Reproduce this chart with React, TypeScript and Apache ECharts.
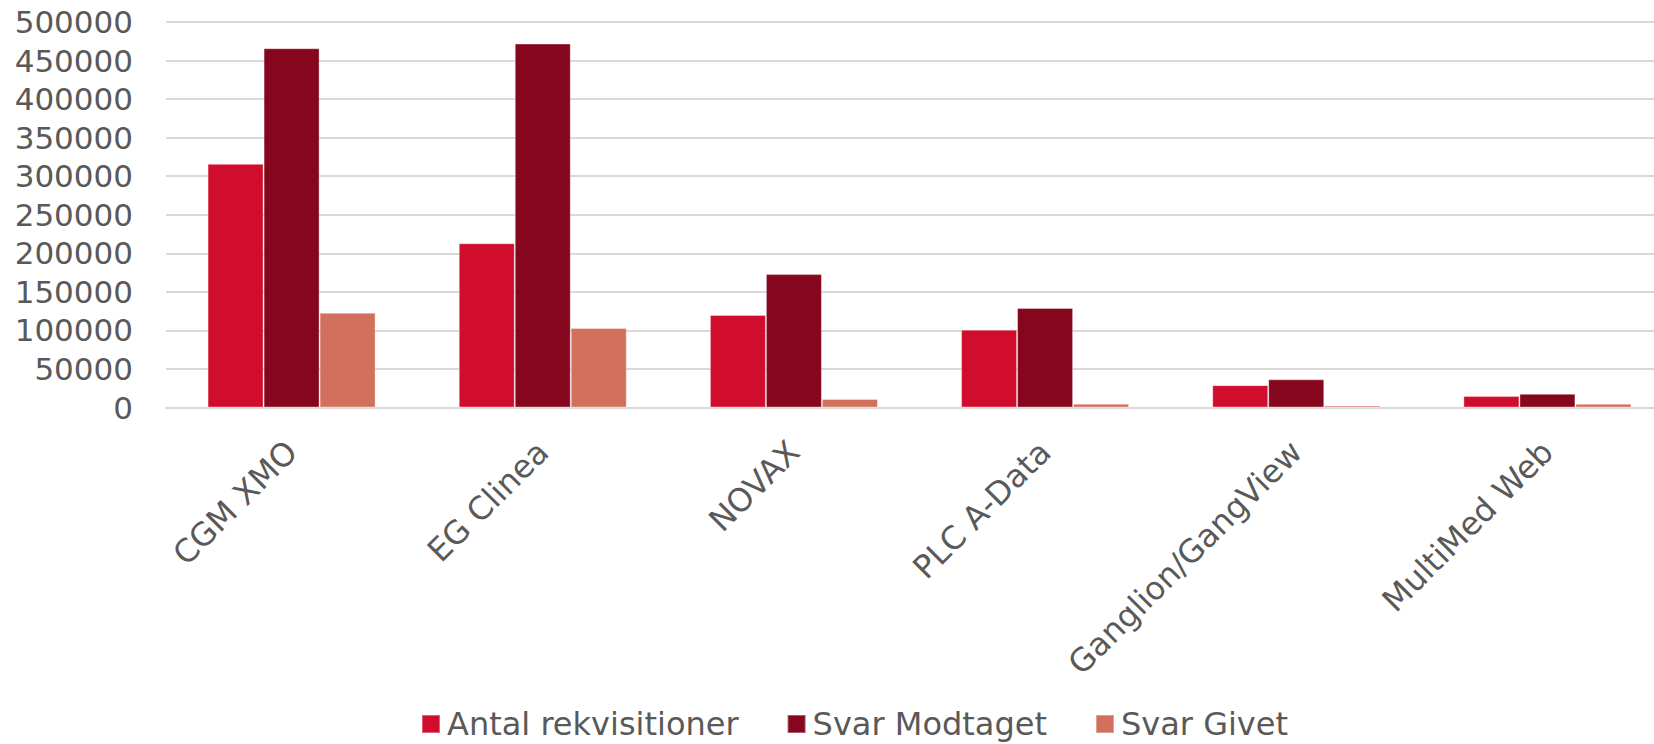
import React, { useEffect, useRef } from "react";
import * as echarts from "echarts";

const categories = ["CGM XMO", "EG Clinea", "NOVAX", "PLC A-Data", "Ganglion/GangView", "MultiMed Web"];
const antalRekvisitioner = [316000, 213000, 120000, 101000, 29000, 15000];
const svarModtaget = [466000, 472000, 173000, 129000, 36500, 17700];
const svarGivet = [123000, 103000, 11000, 5000, 2500, 5000];
const seriesNames = ["Antal rekvisitioner", "Svar Modtaget", "Svar Givet"];
const colors = ["#D00D2D", "#85061D", "#D2705D"];

const FONT = "DejaVu Sans";
const TEXT = "#595959";
const GRID = "#D9D9D9";

export default function App() {
  const ref = useRef<HTMLDivElement>(null);
  useEffect(() => {
    if (!ref.current) return;
    const chart = echarts.init(ref.current, undefined, { renderer: "svg" });
    const data = [antalRekvisitioner, svarModtaget, svarGivet];
    chart.setOption({
      animation: false,
      backgroundColor: "#ffffff",
      textStyle: { fontFamily: FONT },
      grid: { left: 166, top: 22, right: 7, height: 385.5, containLabel: false },
      legend: {
        left: 416,
        top: 703,
        itemWidth: 18,
        itemHeight: 18,
        itemGap: 48,
        icon: "rect",
        data: seriesNames,
        textStyle: { fontFamily: FONT, fontSize: 32, color: TEXT, padding: [0, 0, 0, 2] },
      },
      xAxis: {
        type: "category",
        data: categories,
        axisLine: { lineStyle: { color: GRID, width: 2 } },
        axisTick: { show: false },
        axisLabel: {
          rotate: 45,
          interval: 0,
          margin: 39,
          fontFamily: FONT,
          fontSize: 32,
          color: TEXT,
        },
      },
      yAxis: {
        type: "value",
        min: 0,
        max: 500000,
        interval: 50000,
        axisLine: { show: false },
        axisTick: { show: false },
        splitLine: { lineStyle: { color: GRID, width: 2 } },
        axisLabel: {
          margin: 33,
          fontFamily: FONT,
          fontSize: 31,
          color: TEXT,
          formatter: (v: number) => String(v),
        },
      },
      series: seriesNames.map((name, i) => ({
        name,
        type: "bar",
        data: data[i],
        barWidth: 56,
        barGap: "0%",
        itemStyle: { color: colors[i], borderColor: "rgba(255,255,255,0.35)", borderWidth: 1 },
      })),
    });
    return () => chart.dispose();
  }, []);
  return (
    <div style={{ position: "absolute", left: 0, top: 0, width: 1654, height: 744, overflow: "hidden" }}>
      <div ref={ref} style={{ width: 1680, height: 744 }} />
    </div>
  );
}
